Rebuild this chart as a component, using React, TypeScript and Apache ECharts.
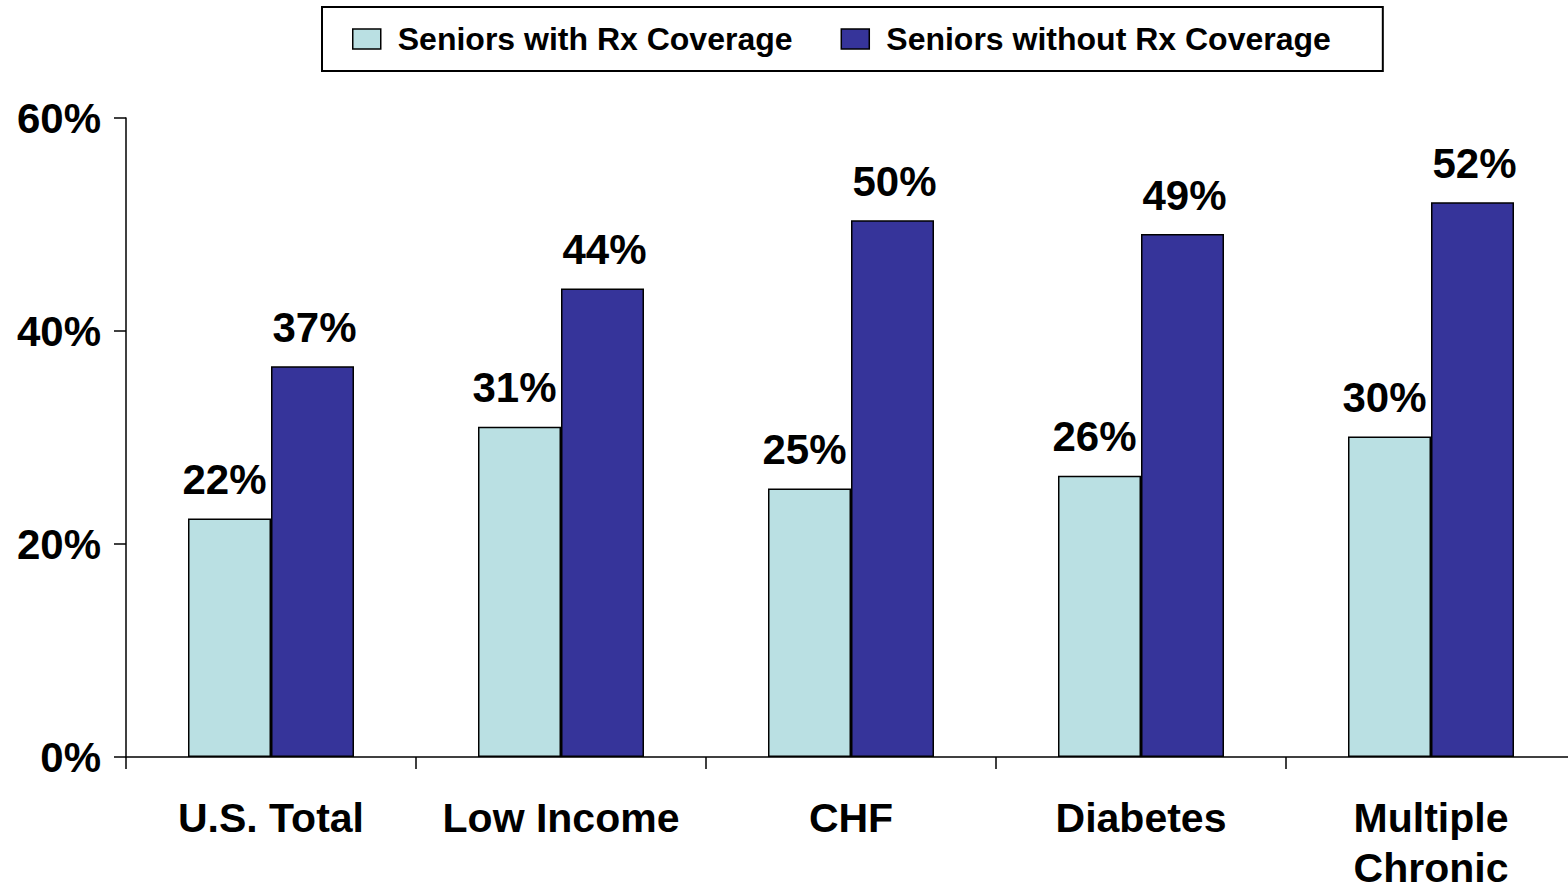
import React, { useEffect, useRef } from "react";
import * as echarts from "echarts";

const categories = ["U.S. Total", "Low Income", "CHF", "Diabetes", "Multiple\nChronic"];
const withRx = [22.4, 31.0, 25.2, 26.4, 30.1];
const withoutRx = [36.7, 44.0, 50.4, 49.1, 52.1];
const seriesNames = ["Seniors with Rx Coverage", "Seniors without Rx Coverage"];
const yTicks = { min: 0, max: 60, interval: 20 };

const FONT = "'Liberation Sans', Arial, Helvetica, sans-serif";

export default function App() {
  const ref = useRef<HTMLDivElement>(null);
  useEffect(() => {
    if (!ref.current) return;
    const chart = echarts.init(ref.current, undefined, { renderer: "svg" });
    const labelCfg = {
      show: true,
      position: "top",
      distance: 18,
      color: "#000",
      fontFamily: FONT,
      fontWeight: "bold",
      fontSize: 42,
      formatter: (p: any) => Math.round(p.value) + "%",
    };
    chart.setOption({
      animation: false,
      backgroundColor: "#fff",
      textStyle: { fontFamily: FONT },
      legend: {
        left: 322,
        top: 7,
        orient: "horizontal",
        icon: "rect",
        itemWidth: 28,
        itemHeight: 20,
        itemGap: 48,
        padding: [16, 52, 16, 30],
        borderColor: "#000",
        borderWidth: 2,
        backgroundColor: "#fff",
        itemStyle: { borderColor: "#000", borderWidth: 1.5 },
        textStyle: {
          fontFamily: FONT,
          fontWeight: "bold",
          fontSize: 32,
          color: "#000",
          padding: [0, 0, 0, 12],
        },
        data: seriesNames,
      },
      grid: { left: 126, top: 118, bottom: 133, right: 4, containLabel: false },
      xAxis: {
        type: "category",
        data: categories,
        axisLine: { lineStyle: { color: "#000", width: 1.5 } },
        axisTick: { show: true, length: 12, lineStyle: { color: "#000", width: 1.5 } },
        axisLabel: {
          color: "#000",
          fontFamily: FONT,
          fontWeight: "bold",
          fontSize: 41,
          lineHeight: 50,
          margin: 36,
          interval: 0,
        },
      },
      yAxis: {
        type: "value",
        min: yTicks.min,
        max: yTicks.max,
        interval: yTicks.interval,
        splitLine: { show: false },
        axisLine: { show: true, lineStyle: { color: "#000", width: 1.5 } },
        axisTick: { show: true, length: 12, lineStyle: { color: "#000", width: 1.5 } },
        axisLabel: {
          color: "#000",
          fontFamily: FONT,
          fontWeight: "bold",
          fontSize: 42,
          margin: 25,
          formatter: "{value}%",
        },
      },
      series: [
        {
          name: seriesNames[0],
          type: "bar",
          data: withRx,
          barWidth: 83,
          barGap: "0%",
          itemStyle: { color: "#BAE0E3", borderColor: "#000", borderWidth: 1.5 },
          label: { ...labelCfg, offset: [-5, 0] },
        },
        {
          name: seriesNames[1],
          type: "bar",
          data: withoutRx,
          barWidth: 83,
          barGap: "0%",
          itemStyle: { color: "#36349A", borderColor: "#000", borderWidth: 1.5 },
          label: { ...labelCfg, offset: [2, 0] },
        },
      ],
    });
    return () => chart.dispose();
  }, []);
  return (
    <div
      style={{ position: "absolute", left: 0, top: 0, width: 1568, height: 893, overflow: "hidden" }}
    >
      <div ref={ref} style={{ width: 1580, height: 893 }} />
    </div>
  );
}
